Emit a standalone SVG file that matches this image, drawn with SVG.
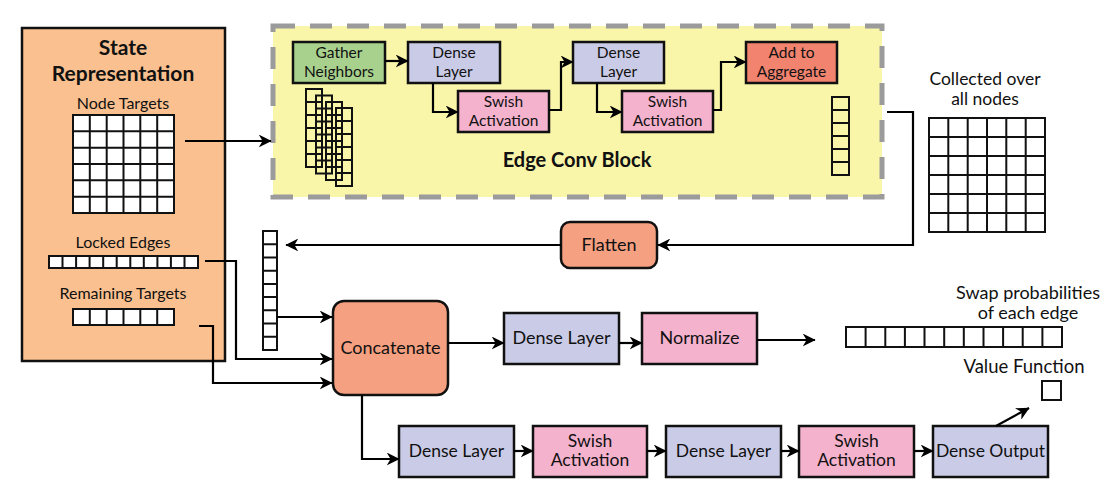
<svg xmlns="http://www.w3.org/2000/svg" width="1108" height="503" viewBox="0 0 1108 503">
<defs>
<marker id="ah" viewBox="0 0 10 10" refX="9.5" refY="5" markerWidth="13" markerHeight="13" markerUnits="userSpaceOnUse" orient="auto">
<path d="M0,0 L10,5 L0,10 L3,5 z" fill="#000"/>
</marker>
<style>
text{font-family:Lato,"Liberation Sans",sans-serif;fill:#111;text-anchor:middle}
.b{font-weight:bold}
.box{stroke:#111;stroke-width:2.5}
.grid{fill:#fff;stroke:#111;stroke-width:2}
.gl{fill:none;stroke:#111;stroke-width:2}
.con{fill:none;stroke:#000;stroke-width:2.2;marker-end:url(#ah)}
.purple{fill:#CACBE6}
.pink{fill:#F5B2CD}
.green{fill:#A9D18E}
.red{fill:#F2836F}
.salmon{fill:#F5A081}
.t15{font-size:15.5px}
.t16{font-size:16px}
.t17{font-size:17.5px}
.t18{font-size:18px}
.t185{font-size:18.5px}
</style>
</defs>

<g id="state">
<rect x="22" y="28" width="203" height="333" fill="#FAC08F" stroke="#111" stroke-width="2.5"/>
<text class="b" x="123" y="55" font-size="21">State</text>
<text class="b" x="123" y="81" font-size="21">Representation</text>
<text class="t16" x="123" y="109">Node Targets</text>
<rect class="grid" x="73" y="115" width="101" height="98"/>
<path class="gl" d="M89.8,115V213M106.7,115V213M123.5,115V213M140.3,115V213M157.2,115V213M73,131.3H174M73,147.7H174M73,164H174M73,180.3H174M73,196.7H174"/>
<text class="t16" x="123" y="248">Locked Edges</text>
<rect class="grid" x="49" y="256" width="149" height="12"/>
<path class="gl" d="M62.5,256V268M76.1,256V268M89.6,256V268M103.2,256V268M116.7,256V268M130.3,256V268M143.8,256V268M157.4,256V268M170.9,256V268M184.5,256V268"/>
<text class="t16" x="123" y="299">Remaining Targets</text>
<rect class="grid" x="73" y="309" width="101" height="16"/>
<path class="gl" d="M89.8,309V325M106.7,309V325M123.5,309V325M140.3,309V325M157.2,309V325"/>
</g>

<g id="edge-conv-block">
<rect x="273" y="26" width="609" height="171" fill="#F9F5A9" stroke="#9B9B9B" stroke-width="5" stroke-dasharray="22 15"/>
<text class="b" x="577" y="167" font-size="20">Edge Conv Block</text>
<g id="stacked-vectors">
<rect class="gl" x="306" y="89" width="16" height="78" fill="#F9F5A9"/>
<path class="gl" d="M306,102H322M306,115H322M306,128H322M306,141H322M306,154H322"/>
<rect class="gl" x="316" y="95.5" width="16" height="78" fill="#F9F5A9"/>
<path class="gl" d="M316,108.5H332M316,121.5H332M316,134.5H332M316,147.5H332M316,160.5H332"/>
<rect class="gl" x="326" y="102" width="16" height="78" fill="#F9F5A9"/>
<path class="gl" d="M326,115H342M326,128H342M326,141H342M326,154H342M326,167H342"/>
<rect class="gl" x="336" y="108" width="16" height="78" fill="#F9F5A9"/>
<path class="gl" d="M336,121H352M336,134H352M336,147H352M336,160H352M336,173H352"/>
</g>
<g id="agg-vector">
<rect class="gl" x="832" y="97" width="17" height="78"/>
<path class="gl" d="M832,110H849M832,123H849M832,136H849M832,149H849M832,162H849"/>
</g>
</g>

<g id="gather">
<rect class="box green" x="293" y="42" width="92" height="41"/>
<text class="t15" x="339" y="58">Gather</text>
<text class="t15" x="339" y="77">Neighbors</text>
</g>
<g id="dense1">
<rect class="box purple" x="408" y="42" width="92" height="41"/>
<text class="t15" x="454" y="58">Dense</text>
<text class="t15" x="454" y="77">Layer</text>
</g>
<g id="swish1">
<rect class="box pink" x="458" y="91" width="91" height="41"/>
<text class="t15" x="503.5" y="107">Swish</text>
<text class="t15" x="503.5" y="126">Activation</text>
</g>
<g id="dense2">
<rect class="box purple" x="573" y="42" width="91" height="41"/>
<text class="t15" x="618.5" y="58">Dense</text>
<text class="t15" x="618.5" y="77">Layer</text>
</g>
<g id="swish2">
<rect class="box pink" x="622" y="91" width="91" height="41"/>
<text class="t15" x="667.5" y="107">Swish</text>
<text class="t15" x="667.5" y="126">Activation</text>
</g>
<g id="add-aggregate">
<rect class="box red" x="746" y="42" width="91" height="41"/>
<text class="t15" x="791.5" y="58">Add to</text>
<text class="t15" x="791.5" y="77">Aggregate</text>
</g>

<g id="collected">
<text class="t17" x="985" y="85">Collected over</text>
<text class="t17" x="985" y="105">all nodes</text>
<rect class="grid" x="929" y="118" width="116" height="114"/>
<path class="gl" d="M948.3,118V232M967.7,118V232M987,118V232M1006.3,118V232M1025.7,118V232M929,137H1045M929,156H1045M929,175H1045M929,194H1045M929,213H1045"/>
</g>

<g id="flatten">
<rect class="box salmon" x="561" y="222" width="96" height="46" rx="9"/>
<text class="t18" x="609" y="251">Flatten</text>
</g>

<g id="flat-vector">
<rect class="grid" x="263" y="231" width="14" height="119"/>
<path class="gl" d="M263,244.2H277M263,257.4H277M263,270.7H277M263,283.9H277M263,297.1H277M263,310.3H277M263,323.6H277M263,336.8H277"/>
</g>

<g id="concatenate">
<rect class="box salmon" x="333" y="301" width="115" height="94" rx="11"/>
<text class="t18" x="390.5" y="354">Concatenate</text>
</g>
<g id="dense-p">
<rect class="box purple" x="504" y="313" width="115" height="51"/>
<text class="t18" x="561.5" y="344">Dense Layer</text>
</g>
<g id="normalize">
<rect class="box pink" x="642" y="313" width="115" height="51"/>
<text class="t18" x="699.5" y="344">Normalize</text>
</g>

<g id="swap-probs">
<text class="t18" x="1028" y="299">Swap probabilities</text>
<text class="t18" x="1028" y="319">of each edge</text>
<rect class="grid" x="846" y="327" width="216" height="20"/>
<path class="gl" d="M865.6,327V347M885.3,327V347M904.9,327V347M924.5,327V347M944.2,327V347M963.8,327V347M983.5,327V347M1003.1,327V347M1022.7,327V347M1042.4,327V347"/>
</g>

<g id="value-function">
<text class="t185" x="1024" y="373">Value Function</text>
<rect class="grid" x="1042" y="381" width="19" height="19"/>
</g>

<g id="dense-v1">
<rect class="box purple" x="399" y="426" width="115" height="51"/>
<text class="t17" x="456.5" y="457">Dense Layer</text>
</g>
<g id="swish-v1">
<rect class="box pink" x="533" y="426" width="114" height="51"/>
<text class="t17" x="590" y="447">Swish</text>
<text class="t17" x="590" y="466">Activation</text>
</g>
<g id="dense-v2">
<rect class="box purple" x="666" y="426" width="115" height="51"/>
<text class="t17" x="723.5" y="457">Dense Layer</text>
</g>
<g id="swish-v2">
<rect class="box pink" x="799" y="426" width="115" height="51"/>
<text class="t17" x="856.5" y="447">Swish</text>
<text class="t17" x="856.5" y="466">Activation</text>
</g>
<g id="dense-output">
<rect class="box purple" x="933" y="426" width="115" height="51"/>
<text class="t17" x="990.5" y="457">Dense Output</text>
</g>

<g id="connectors">
<path class="con" d="M185,141H271"/>
<path class="con" d="M385,61H408"/>
<path class="con" d="M433,83V112H458"/>
<path class="con" d="M549,110H561V62H573"/>
<path class="con" d="M597,83V112H622"/>
<path class="con" d="M713,110H721V62H746"/>
<path class="con" d="M887,112H913V245H658"/>
<path class="con" d="M561,245H286"/>
<path class="con" d="M277,317H332"/>
<path class="con" d="M205,261H236V359H332"/>
<path class="con" d="M199,326H213V383H332"/>
<path class="con" d="M448,343H504"/>
<path class="con" d="M619,343H642"/>
<path class="con" d="M757,340H815"/>
<path class="con" d="M362,395V459H399"/>
<path class="con" d="M514,451H533"/>
<path class="con" d="M647,451H666"/>
<path class="con" d="M781,451H799"/>
<path class="con" d="M914,451H933"/>
<path class="con" d="M996,426L1029,408"/>
</g>
</svg>
